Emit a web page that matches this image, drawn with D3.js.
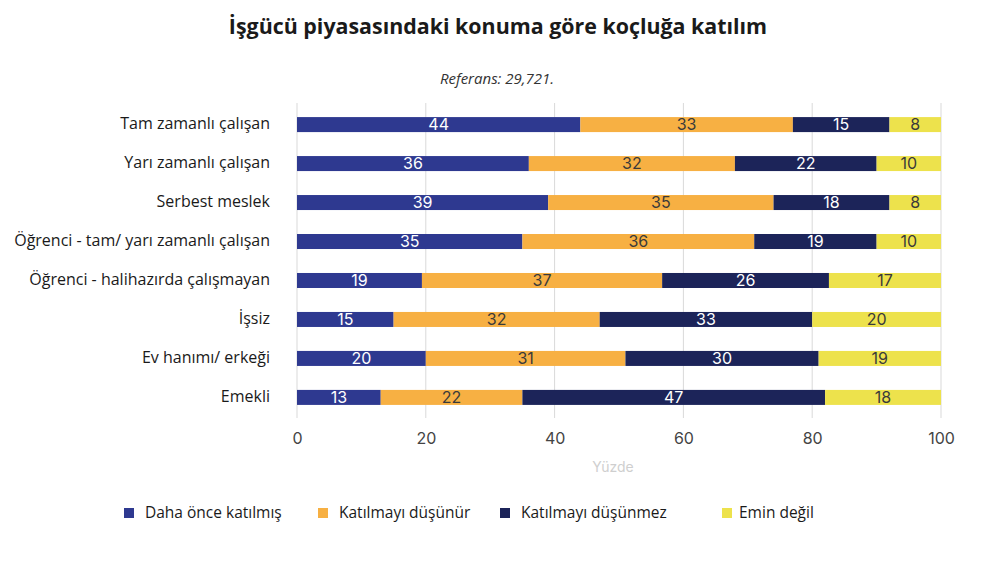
<!DOCTYPE html>
<html>
<head>
<meta charset="utf-8">
<script src="https://cdn.jsdelivr.net/npm/d3@7"></script>
<style>
  body { margin: 0; background: #fff; }
  text { font-family: "Open Sans", sans-serif; }
</style>
</head>
<body>
<svg id="chart" width="1004" height="578"></svg>
<script>
// categories, top to bottom
var categories = [
  "Tam zamanlı çalışan",
  "Yarı zamanlı çalışan",
  "Serbest meslek",
  "Öğrenci - tam/ yarı zamanlı çalışan",
  "Öğrenci - halihazırda çalışmayan",
  "İşsiz",
  "Ev hanımı/ erkeği",
  "Emekli"
];
var seriesNames = ["Daha önce katılmış", "Katılmayı düşünür", "Katılmayı düşünmez", "Emin değil"];
// one array per series, same order as categories
var dahaOnce  = [44, 36, 39, 35, 19.4, 15, 20, 13];
var dusunur   = [33, 32, 35, 36, 37.3, 32, 31, 22];
var dusunmez  = [15, 22, 18, 19, 25.9, 33, 30, 47];
var eminDegil = [8, 10, 8, 10, 17.4, 20, 19, 18];
var xTicks = [0, 20, 40, 60, 80, 100];

var colors = ["#2e3990", "#f7b043", "#1c2459", "#ede24c"];
var labelColors = ["#ffffff", "#3a3a3a", "#ffffff", "#3a3a3a"];

var svg = d3.select("#chart");

// build the table for the stack
var table = categories.map(function(c, i) {
  return { cat: c, s0: dahaOnce[i], s1: dusunur[i], s2: dusunmez[i], s3: eminDegil[i] };
});
var stack = d3.stack().keys(["s0", "s1", "s2", "s3"])(table);

var x = d3.scaleLinear().domain([0, 100]).range([297, 941]);
var y = d3.scaleBand().domain(categories).range([105, 417]).paddingInner(0.615).paddingOuter(0.31);

// title + subtitle
svg.append("text").attr("x", 498).attr("y", 34).attr("text-anchor", "middle")
   .style("font-size", "21.4px").style("font-weight", "bold").style("fill", "#1a1a1a")
   .text("İşgücü piyasasındaki konuma göre koçluğa katılım");
svg.append("text").attr("x", 497).attr("y", 84).attr("text-anchor", "middle")
   .style("font-size", "15px").style("font-style", "italic").style("fill", "#333")
   .text("Referans: 29,721.");

// grid lines
svg.append("g").selectAll("line").data(xTicks).enter().append("line")
   .attr("x1", d => x(d)).attr("x2", d => x(d))
   .attr("y1", 103).attr("y2", 418)
   .attr("stroke", "#d9d9d9").attr("stroke-width", 1);

// bars
var layers = svg.append("g").selectAll("g").data(stack).enter().append("g");
layers.selectAll("rect").data(d => d).enter().append("rect")
   .attr("x", d => x(d[0]))
   .attr("y", d => y(d.data.cat))
   .attr("width", d => x(d[1]) - x(d[0]))
   .attr("height", y.bandwidth())
   .attr("fill", function() { return colors[d3.select(this.parentNode).datum().index]; });

layers.selectAll("text").data(d => d).enter().append("text")
   .attr("x", d => (x(d[0]) + x(d[1])) / 2)
   .attr("y", d => y(d.data.cat) + y.bandwidth() / 2)
   .attr("dy", "0.36em")
   .attr("text-anchor", "middle")
   .style("font-family", "Inter, sans-serif")
   .style("font-size", "16px")
   .style("fill", function() { return labelColors[d3.select(this.parentNode).datum().index]; })
   .text(d => Math.round(d[1] - d[0]));

// category labels
svg.append("g").selectAll("text").data(categories).enter().append("text")
   .attr("x", 270)
   .attr("y", d => y(d) + y.bandwidth() / 2)
   .attr("dy", "0.3em")
   .attr("text-anchor", "end")
   .style("font-size", "16px").style("fill", "#1a1a1a")
   .text(d => d);

// x axis
var xAxis = d3.axisBottom(x).tickValues(xTicks).tickSize(0).tickPadding(0);
var ax = svg.append("g").attr("transform", "translate(0,433)").call(xAxis);
ax.select(".domain").remove();
ax.selectAll("text").style("font-family", "Inter, sans-serif").style("font-size", "16px")
  .style("fill", "#444").attr("dy", "0.71em");

svg.append("text").attr("x", 613).attr("y", 472).attr("text-anchor", "middle")
   .style("font-family", "Inter, sans-serif").style("font-size", "14px").style("fill", "#cfcfcf")
   .text("Yüzde");

// legend
var legendX = [124, 318, 500, 722];
var leg = svg.append("g").selectAll("g").data(seriesNames).enter().append("g")
   .attr("transform", (d, i) => "translate(" + legendX[i] + ",508)");
leg.append("rect").attr("width", 10).attr("height", 10).attr("fill", (d, i) => colors[i]);
leg.append("text").attr("x", (d, i) => i == 3 ? 17 : 21).attr("y", 5).attr("dy", "0.35em")
   .style("font-size", "15.5px").style("fill", "#1a1a1a").text(d => d);
</script>
</body>
</html>
